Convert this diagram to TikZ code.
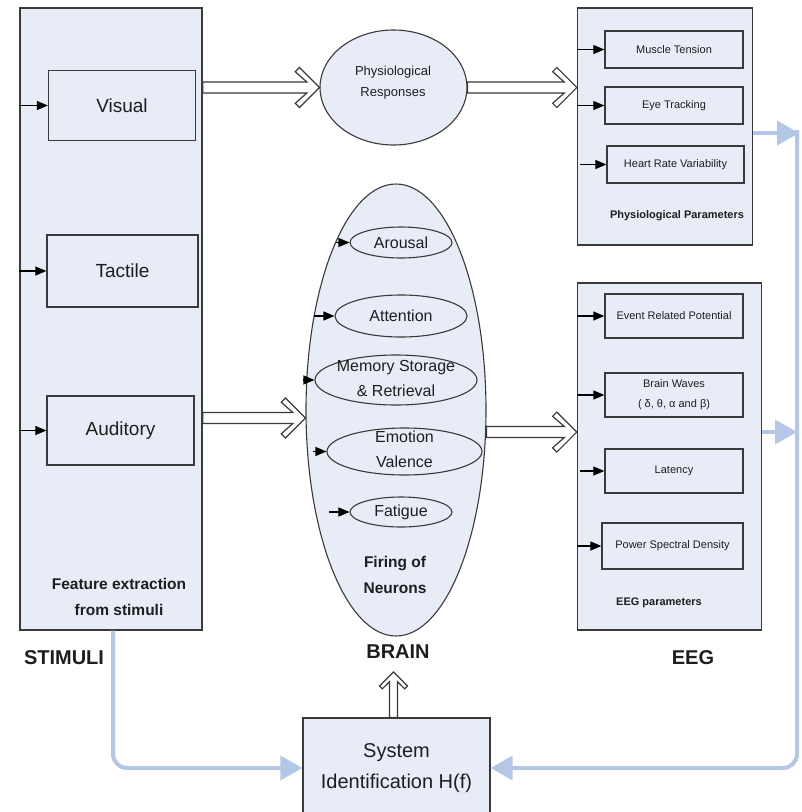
\documentclass[tikz,border=0pt]{standalone}
\usepackage{fontspec}
\setmainfont{Liberation Sans}
\usetikzlibrary{arrows.meta,calc,shapes.geometric}
\definecolor{boxfill}{HTML}{E7ECF6}
\definecolor{edge}{HTML}{3A3A3A}
\definecolor{lblue}{HTML}{B4C7E6}
\definecolor{ink}{HTML}{1E1E1E}
\newcommand\fszB{\fontsize{19}{24}\selectfont}
\newcommand\fszC{\fontsize{13}{21}\selectfont}
\newcommand\fszD{\fontsize{11}{20}\selectfont}
\newcommand\fszE{\fontsize{11}{14}\selectfont\bfseries}
\newcommand\fszF{\fontsize{16}{25}\selectfont}
\newcommand\fszG{\fontsize{15.5}{26}\selectfont\bfseries}
\newcommand\fszH{\fontsize{20}{24}\selectfont\bfseries}
\newcommand\fszI{\fontsize{20}{31}\selectfont}
\begin{document}
\begin{tikzpicture}[x=1pt,y=-1pt,
  box/.style={draw=edge, line width=1.3pt, fill=boxfill, inner sep=0pt, text=ink, align=center},
  sz/.style 2 args={minimum width=#1, minimum height=#2},
  ell/.style={ellipse, draw=edge, line width=1.1pt, fill=boxfill, inner sep=0pt},
  txt/.style={text=ink, align=center, inner sep=0pt},
  sarrow/.style={draw=black, line width=1.2pt, -{Triangle[length=11pt,width=9pt]}},
  fatarrow/.style={draw=edge, line width=1.2pt, fill=white, line join=miter},
  bluearrow/.style={draw=lblue, line width=4pt, rounded corners=14pt, -{Triangle[length=22pt,width=24pt]}},
  fat/.style n args={5}{to path={
    ($(\tikztostart)!#1!90:(\tikztotarget)$) --
    ($(\tikztotarget)!#2!(\tikztostart)!#1!-90:(\tikztostart)$) --
    ($(\tikztotarget)!#3!(\tikztostart)!#4!-90:(\tikztostart)$) --
    ($(\tikztotarget)!#5!(\tikztostart)!#5!-90:(\tikztostart)$) --
    (\tikztotarget) --
    ($(\tikztotarget)!#5!(\tikztostart)!#5!90:(\tikztostart)$) --
    ($(\tikztotarget)!#3!(\tikztostart)!#4!90:(\tikztostart)$) --
    ($(\tikztotarget)!#2!(\tikztostart)!#1!90:(\tikztostart)$) --
    ($(\tikztostart)!#1!-90:(\tikztotarget)$) -- cycle}},
  fatbig/.style={fat={5.5pt}{12.6pt}{24.2pt}{15.8pt}{20pt}},
  fatsmall/.style={fat={4pt}{9.7pt}{16.8pt}{11.2pt}{14pt}}
]
\useasboundingbox (0,0) rectangle (802,812);
\fill[white] (0,0) rectangle (802,812);

% containers
\node[box, sz={182pt}{622pt}] (stim) at (111,319) {};
\node[box, sz={175pt}{237pt}] (pp) at (665,126.5) {};
\node[box, sz={184pt}{347pt}] (eeg) at (669.5,456.5) {};
\node[ell, minimum width=180pt, minimum height=452pt] (brain) at (396,410) {};
\node[ell, minimum width=147pt, minimum height=115pt] (pr) at (393.5,87.5) {};
\node[box, sz={187pt}{100pt}, font=\fszI] (sys) at (396.5,768) {System\\Identification H(f)};

% blue feedback connectors
\coordinate (rtop) at (797,130);
\draw[bluearrow] ([xshift=2pt]stim.south) |- (sys.west);
\draw[bluearrow] (rtop) |- (sys.east);
\draw[bluearrow] ([yshift=-6.5pt]pp.east) -- ([yshift=-6.5pt,xshift=2pt]pp.east -| rtop);
\draw[bluearrow] ([yshift=24.5pt]eeg.east) -- ([yshift=24.5pt]eeg.east -| rtop);

% stimuli boxes
\node[box, sz={147pt}{70pt}, font=\fszB] (vis) at (122,105.5) {Visual};
\node[box, sz={151pt}{72pt}, font=\fszB] (tac) at (122.5,271) {Tactile};
\node[box, sz={147pt}{69pt}, font=\fszB] (aud) at (120.5,430.5) {Auditory};
\draw[sarrow] (stim.west |- vis.west) -- (vis.west);
\draw[sarrow] (stim.west |- tac.west) -- (tac.west);
\draw[sarrow] (stim.west |- aud.west) -- (aud.west);
\node[txt, font=\fszG] (feat) at (119,597) {Feature extraction\\from stimuli};

% physiological responses
\node[txt, font=\fszC] (prt) at (393,83) {Physiological\\Responses};

% physiological parameters
\node[box, sz={138pt}{37pt}, font=\fszD] (mt) at (674,49.5) {Muscle Tension};
\node[box, sz={138pt}{37pt}, font=\fszD] (et) at (674,105.5) {Eye Tracking};
\node[box, sz={137pt}{37pt}, font=\fszD] (hrv) at (675.5,164.5) {Heart Rate Variability};
\draw[sarrow] (pp.west |- mt.west) -- (mt.west);
\draw[sarrow] (pp.west |- et.west) -- (et.west);
\draw[sarrow] ([xshift=3pt]pp.west |- hrv.west) -- (hrv.west);
\node[txt, font=\fszE] (ppl) at (677,216) {Physiological Parameters};

% EEG parameters
\node[box, sz={138pt}{44pt}, font=\fszD] (erp) at (674,316) {Event Related Potential};
\node[box, sz={138pt}{44pt}, font=\fszD] (bw) at (674,395) {Brain Waves\\( δ, θ, α and β)};
\node[box, sz={138pt}{44pt}, font=\fszD] (lat) at (674,471) {Latency};
\node[box, sz={141pt}{46pt}, font=\fszD] (psd) at (672.5,546) {Power Spectral Density};
\draw[sarrow] (eeg.west |- erp.west) -- (erp.west);
\draw[sarrow] (eeg.west |- bw.west) -- (bw.west);
\draw[sarrow] ([xshift=3pt]eeg.west |- lat.west) -- (lat.west);
\draw[sarrow] (eeg.west |- psd.west) -- (psd.west);
\node[txt, font=\fszE] (eegl) at (659,603) {EEG parameters};

% brain inner ellipses
\node[ell, minimum width=102pt, minimum height=31pt] (aro) at (401,242.5) {};
\node[ell, minimum width=132pt, minimum height=42pt] (att) at (401,316) {};
\node[ell, minimum width=162pt, minimum height=50pt] (mem) at (396,380) {};
\node[ell, minimum width=155pt, minimum height=47pt] (emo) at (404.5,451.5) {};
\node[ell, minimum width=102pt, minimum height=30pt] (fat) at (401,512) {};
\node[txt, font=\fszF] at (aro) {Arousal};
\node[txt, font=\fszF] at (att) {Attention};
\node[txt, font=\fszF] at ([yshift=2pt]mem) {Memory Storage\\\& Retrieval};
\node[txt, font=\fszF] at ([yshift=2pt]emo) {Emotion\\Valence};
\node[txt, font=\fszF] at (fat) {Fatigue};
\draw[sarrow] ([xshift=-13pt]aro.west) -- (aro.west);
\draw[sarrow] ([xshift=-20pt]att.west) -- (att.west);
\draw[sarrow] ([xshift=-11pt]mem.west) -- (mem.west);
\draw[sarrow] ([xshift=-13pt]emo.west) -- (emo.west);
\draw[sarrow] ([xshift=-20pt]fat.west) -- (fat.west);
\node[txt, font=\fszG] (fir) at (395,575) {Firing of\\Neurons};

% big hollow arrows
\coordinate (ya) at (0,418);
\coordinate (yb) at (0,432);
\coordinate (yc) at (0,672);
\path[fatarrow] (stim.east |- pr.west) to[fatbig] (pr.west);
\path[fatarrow] (pr.east) to[fatbig] (pp.west |- pr.east);
\path[fatarrow] (stim.east |- ya) to[fatbig] (brain.west |- ya);
\path[fatarrow] (brain.east |- yb) to[fatbig] (eeg.west |- yb);
\path[fatarrow] ([xshift=-3pt]sys.north) to[fatsmall] ([xshift=-3pt]sys.north |- yc);

% section labels
\node[txt, font=\fszH] (lst) at (64,658) {STIMULI};
\node[txt, font=\fszH] (lbr) at (398,652) {BRAIN};
\node[txt, font=\fszH] (leg) at (693,658) {EEG};
\end{tikzpicture}
\end{document}
